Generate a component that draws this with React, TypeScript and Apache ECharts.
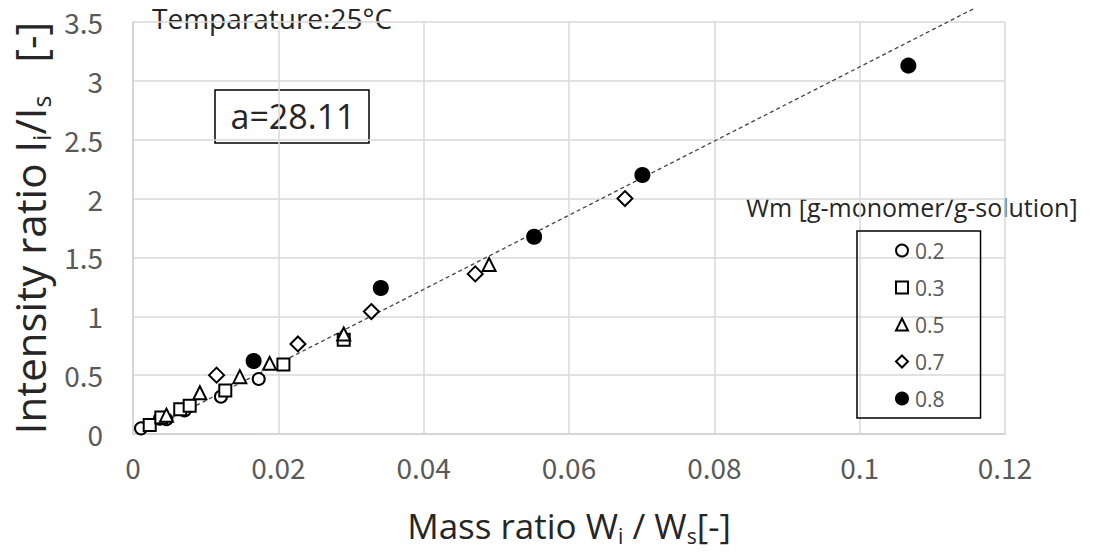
import React, { useEffect, useRef } from "react";
import * as echarts from "echarts";

const seriesNames = ["0.2", "0.3", "0.5", "0.7", "0.8"];

const wm02: number[][] = [
  [0.0011, 0.048], [0.0037, 0.13], [0.0046, 0.125], [0.0071, 0.2], [0.0121, 0.317], [0.0173, 0.467],
];
const wm03: number[][] = [
  [0.0023, 0.076], [0.0039, 0.14], [0.0065, 0.21], [0.0078, 0.24], [0.0127, 0.37], [0.0207, 0.59], [0.029, 0.8],
];
const wm05: number[][] = [
  [0.0046, 0.16], [0.0092, 0.35], [0.0147, 0.487], [0.0188, 0.6], [0.029, 0.85], [0.049, 1.44],
];
const wm07: number[][] = [
  [0.0115, 0.5], [0.0227, 0.765], [0.0328, 1.04], [0.0471, 1.36], [0.0677, 2.0],
];
const wm08: number[][] = [
  [0.0166, 0.62], [0.0341, 1.24], [0.0552, 1.676], [0.0701, 2.2], [0.1067, 3.13],
];
const trendLine: number[][] = [
  [0.001, 0.0], [0.1156, 3.61],
];

const xTicks = { min: 0, max: 0.12, interval: 0.02 };
const yTicks = { min: 0, max: 3.5, interval: 0.5 };

const FONT = "'Noto Sans CJK JP', 'Noto Sans', sans-serif";
const WIDE = "'Open Sans', 'Noto Sans', sans-serif";

export default function App() {
  const ref = useRef<HTMLDivElement>(null);
  useEffect(() => {
    if (!ref.current) return;
    const chart = echarts.init(ref.current, null, { renderer: "svg" });
    const hollow = (color = "#fff") => ({ color, borderColor: "#000", borderWidth: 2, opacity: 1 });
    const xRich = {
      n: { fontSize: 35, lineHeight: 42, color: "#262626", fontFamily: WIDE },
      sub: { fontSize: 21, lineHeight: 21, verticalAlign: "bottom", color: "#262626", fontFamily: WIDE, padding: [14, 0, 0, 0] },
    };
    const yRich = {
      n: { fontSize: 42, lineHeight: 48, color: "#262626", fontFamily: WIDE },
      sub: { fontSize: 25, lineHeight: 25, verticalAlign: "bottom", color: "#262626", fontFamily: WIDE, padding: [16, 0, 0, 0] },
    };
    const option: any = {
      animation: false,
      backgroundColor: "#fff",
      textStyle: { fontFamily: FONT },
      grid: { left: 133, top: 22, width: 872, height: 412, containLabel: false },
      xAxis: {
        type: "value",
        ...xTicks,
        axisLine: { show: true, lineStyle: { color: "#d0d0d0", width: 1.5 } },
        axisTick: { show: false },
        splitLine: { show: true, lineStyle: { color: "#d9d9d9", width: 1.5 } },
        axisLabel: {
          color: "#595959", fontSize: 28, fontFamily: FONT, margin: 19,
          formatter: (v: number) => String(+v.toFixed(2)),
        },
        name: "{n|Mass ratio W}{sub|i}{n| / W}{sub|s}{n|[-]}",
        nameLocation: "middle",
        nameGap: 70,
        nameTextStyle: { fontFamily: WIDE, color: "#262626", fontSize: 35, rich: xRich },
      },
      yAxis: {
        type: "value",
        ...yTicks,
        axisLine: { show: true, lineStyle: { color: "#d0d0d0", width: 1.5 } },
        axisTick: { show: false },
        splitLine: { show: true, lineStyle: { color: "#d9d9d9", width: 1.5 } },
        axisLabel: { color: "#595959", fontSize: 28, fontFamily: FONT, margin: 30 },
        name: "{n|Intensity ratio I}{sub|i}{n|/I}{sub|s}{n|   [-]}",
        nameLocation: "middle",
        nameGap: 78,
        nameTextStyle: { fontFamily: WIDE, color: "#262626", fontSize: 42, rich: yRich },
      },
      legend: {
        data: seriesNames,
        orient: "vertical",
        left: 857,
        top: 231,
        padding: [9, 36, 9, 38],
        itemWidth: 12,
        itemHeight: 12,
        itemGap: 16,
        borderColor: "#000",
        borderWidth: 1.5,
        textStyle: { color: "#595959", fontSize: 21, lineHeight: 21, fontFamily: WIDE, padding: [0, 0, 0, 2] },
      },
      graphic: [
        {
          type: "text", left: 152, top: 4,
          style: { text: "Temparature:25°C", font: `28px ${WIDE}`, fill: "#262626" },
        },
        {
          type: "rect", shape: { x: 215, y: 90, width: 154, height: 53 },
          style: { fill: "#fff", stroke: "#000", lineWidth: 1.5 },
        },
        {
          type: "text", x: 293, y: 116,
          style: { text: "a=28.11", font: `34px ${WIDE}`, fill: "#262626", align: "center", verticalAlign: "middle" },
        },
        {
          type: "text", left: 746, top: 194,
          style: { text: "Wm [g-monomer/g-solution]", font: `25px ${WIDE}`, fill: "#262626" },
        },
      ],
      series: [
        {
          type: "line", data: trendLine, showSymbol: false, symbol: "none", clip: false, silent: true,
          lineStyle: { color: "#444", width: 1.3, type: [4, 3] }, z: 1,
        },
        { name: "0.2", type: "scatter", data: wm02, symbol: "circle", symbolSize: 12, itemStyle: hollow(), z: 3 },
        { name: "0.3", type: "scatter", data: wm03, symbol: "rect", symbolSize: 12, itemStyle: hollow(), z: 3 },
        { name: "0.5", type: "scatter", data: wm05, symbol: "triangle", symbolSize: 13, itemStyle: hollow(), z: 3 },
        { name: "0.7", type: "scatter", data: wm07, symbol: "diamond", symbolSize: 15, itemStyle: hollow(), z: 3 },
        { name: "0.8", type: "scatter", data: wm08, symbol: "circle", symbolSize: 14, itemStyle: hollow("#000"), z: 3 },
      ],
    };
    chart.setOption(option);
    return () => chart.dispose();
  }, []);
  return (
    <div
      ref={ref}
      style={{ position: "fixed", left: 0, top: 0, width: 1093, height: 553, background: "#fff" }}
    />
  );
}
